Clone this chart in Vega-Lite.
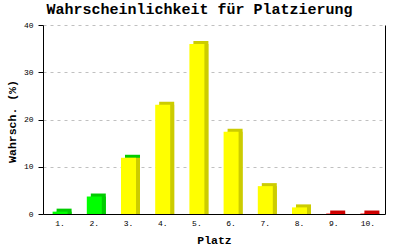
{
  "$schema": "https://vega.github.io/schema/vega-lite/v6.json",
  "width": 342,
  "height": 189,
  "autosize": {"type": "none"},
  "padding": {"left": 43, "top": 25, "right": 15, "bottom": 36},
  "background": "white",
  "title": {
    "text": "Wahrscheinlichkeit für Platzierung",
    "font": "Liberation Mono",
    "fontSize": 15,
    "fontWeight": "bold",
    "color": "black",
    "anchor": "middle",
    "frame": "group",
    "dx": -14.5,
    "offset": 4
  },
  "data": {
    "values": [
      {"platz": "1.", "wert": 0.5, "front": "grün", "oben": "grün"},
      {"platz": "2.", "wert": 3.7, "front": "grün", "oben": "grün"},
      {"platz": "3.", "wert": 11.9, "front": "gelb", "oben": "grün"},
      {"platz": "4.", "wert": 23.1, "front": "gelb", "oben": "gelb"},
      {"platz": "5.", "wert": 36.0, "front": "gelb", "oben": "gelb"},
      {"platz": "6.", "wert": 17.4, "front": "gelb", "oben": "gelb"},
      {"platz": "7.", "wert": 5.9, "front": "gelb", "oben": "gelb"},
      {"platz": "8.", "wert": 1.4, "front": "gelb", "oben": "gelb"},
      {"platz": "9.", "wert": 0.1, "front": "rot", "oben": "rot"},
      {"platz": "10.", "wert": 0.1, "front": "rot", "oben": "rot"}
    ]
  },
  "encoding": {
    "x": {
      "field": "platz",
      "type": "ordinal",
      "sort": null,
      "scale": {"paddingInner": 0, "paddingOuter": 0},
      "axis": {
        "title": "Platz",
        "titleFont": "Liberation Mono",
        "titleFontSize": 11.5,
        "titleFontWeight": "bold",
        "titleColor": "black",
        "titleBaseline": "alphabetic",
        "titleY": 29,
        "labelFont": "Liberation Mono",
        "labelFontSize": 8,
        "labelColor": "black",
        "labelAngle": 0,
        "labelPadding": 5,
        "ticks": false,
        "tickSize": 0,
        "domainColor": "black",
        "grid": false
      }
    }
  },
  "layer": [
    {
      "mark": {"type": "bar", "size": 15, "xOffset": 4, "yOffset": -3, "y2Offset": 0.001},
      "encoding": {
        "y": {
          "field": "wert",
          "type": "quantitative",
          "stack": null,
          "scale": {"domain": [0, 40]},
          "axis": {
            "orient": "left",
            "values": [0, 10, 20, 30, 40],
            "title": "Wahrsch. (%)",
            "titleFont": "Liberation Mono",
            "titleFontSize": 11.5,
            "titleFontWeight": "bold",
            "titleColor": "black",
            "titleAngle": -90,
            "titleBaseline": "middle",
            "titleX": -30.5,
            "titleY": 96,
            "labelFont": "Liberation Mono",
            "labelFontSize": 8,
            "labelColor": "black",
            "labelPadding": 5,
            "tickSize": 5,
            "tickColor": "black",
            "domainColor": "black",
            "grid": true,
            "gridColor": "#c0c0c0",
            "gridDash": [3, 4],
            "gridOpacity": 1
          }
        },
        "color": {
          "field": "oben",
          "type": "nominal",
          "scale": {"domain": ["grün", "gelb", "rot"], "range": ["#00cc00", "#cccc00", "#cc0000"]},
          "legend": null
        }
      }
    },
    {
      "mark": {"type": "bar", "size": 15, "xOffset": 4, "yOffset": 0.001, "y2Offset": 0.001},
      "encoding": {
        "y": {"field": "wert", "type": "quantitative", "stack": null, "axis": null},
        "color": {
          "field": "front",
          "type": "nominal",
          "scale": {"domain": ["grün", "gelb", "rot"], "range": ["#00cc00", "#cccc00", "#cc0000"]},
          "legend": null
        }
      }
    },
    {
      "mark": {"type": "bar", "size": 15},
      "encoding": {
        "y": {
          "field": "wert",
          "type": "quantitative",
          "stack": null,
          "axis": {
            "orient": "right",
            "labels": false,
            "ticks": false,
            "grid": false,
            "title": null,
            "domainColor": "black"
          }
        },
        "color": {
          "field": "front",
          "type": "nominal",
          "scale": {"domain": ["grün", "gelb", "rot"], "range": ["#00ff00", "#ffff00", "#ff0000"]},
          "legend": null
        }
      }
    }
  ],
  "resolve": {"scale": {"color": "independent"}, "axis": {"y": "independent"}},
  "config": {"view": {"stroke": null}}
}
